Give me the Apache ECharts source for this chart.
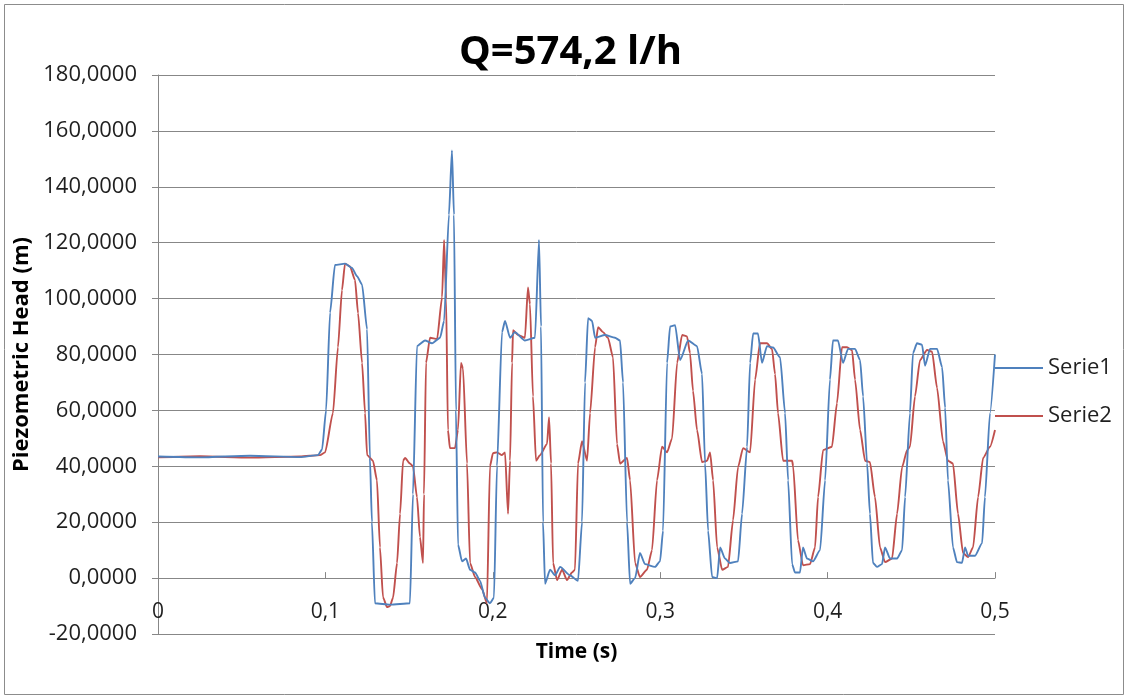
<!DOCTYPE html>
<html>
<head>
<meta charset="utf-8">
<title>Q=574,2 l/h</title>
<script src="https://cdn.jsdelivr.net/npm/echarts@6/dist/echarts.min.js"></script>
<style>
  html, body { margin: 0; padding: 0; background: #fff; }
  #chart { width: 1128px; height: 699px; }
</style>
</head>
<body>
<div id="chart"></div>
<script>
// 轴刻度
const timeTicks = [0, 0.1, 0.2, 0.3, 0.4, 0.5]
const headTicks = [-20, 0, 20, 40, 60, 80, 100, 120, 140, 160, 180]

// Serie1: [time (s), head (m)]
const serie1 = [
  [0, 43.5], [0.0251, 43.2], [0.0550, 43.8], [0.0848, 43.3], [0.0956, 44], [0.0980, 46], [0.1004, 60],
  [0.1028, 95], [0.1057, 112], [0.1117, 112.5], [0.1159, 111], [0.1189, 108], [0.1219, 105], [0.1249, 89],
  [0.1266, 43], [0.1278, 20], [0.1296, -9], [0.1386, -9.5], [0.1505, -9], [0.1523, 30], [0.1547, 83],
  [0.1595, 85], [0.1637, 84], [0.1685, 86], [0.1709, 92], [0.1738, 130], [0.1756, 153], [0.1768, 130],
  [0.1780, 60], [0.1792, 12], [0.1816, 6], [0.1840, 7], [0.1864, 3], [0.1894, 2], [0.1924, -1], [0.1953, -7],
  [0.1983, -9], [0.2007, -7], [0.2025, 40], [0.2055, 88], [0.2073, 92], [0.2103, 86], [0.2132, 88],
  [0.2192, 85], [0.2252, 86], [0.2276, 121], [0.2288, 90], [0.2300, 20], [0.2312, -2], [0.2342, 3],
  [0.2372, 1], [0.2402, 4], [0.2461, 1], [0.2509, -1], [0.2533, 20], [0.2551, 70], [0.2569, 93],
  [0.2593, 92], [0.2611, 86], [0.2670, 87], [0.2730, 86], [0.2760, 85], [0.2778, 70], [0.2802, 20],
  [0.2820, -2], [0.2850, 0], [0.2879, 9], [0.2909, 5], [0.2969, 4], [0.2999, 6], [0.3017, 17], [0.3041, 77],
  [0.3059, 90], [0.3089, 90.5], [0.3119, 78], [0.3167, 85], [0.3220, 83], [0.3250, 73], [0.3268, 41],
  [0.3286, 17], [0.3310, 0.4], [0.3340, 0], [0.3358, 11], [0.3387, 7], [0.3417, 5.4], [0.3465, 6],
  [0.3489, 23], [0.3519, 47], [0.3537, 77], [0.3555, 87.5], [0.3584, 87.5], [0.3608, 77], [0.3638, 83],
  [0.3674, 82.5], [0.3716, 79], [0.3746, 59], [0.3764, 35], [0.3788, 5], [0.3805, 2], [0.3835, 2],
  [0.3853, 11], [0.3877, 7], [0.3913, 6], [0.3955, 10], [0.3985, 35], [0.4014, 71], [0.4032, 85],
  [0.4062, 85], [0.4092, 77], [0.4122, 82], [0.4164, 82], [0.4194, 78], [0.4212, 65], [0.4236, 41],
  [0.4253, 23], [0.4271, 5.4], [0.4295, 4], [0.4325, 5], [0.4343, 11], [0.4373, 7], [0.4415, 7],
  [0.4445, 10], [0.4463, 29], [0.4492, 59], [0.4510, 80.5], [0.4534, 84], [0.4564, 83.5], [0.4582, 76],
  [0.4612, 82], [0.4654, 82], [0.4684, 75.5], [0.4702, 61], [0.4719, 35], [0.4749, 11], [0.4773, 5.7],
  [0.4803, 5.5], [0.4821, 11], [0.4839, 8], [0.4881, 8], [0.4923, 12.5], [0.4940, 29], [0.4970, 59],
  [0.5000, 80]
]

// Serie2: [time (s), head (m)]
const serie2 = [
  [0, 43.2], [0.0251, 43.6], [0.0550, 43.1], [0.0848, 43.5], [0.0968, 44], [0.0998, 45], [0.1045, 59],
  [0.1075, 82.6], [0.1099, 103], [0.1117, 112.5], [0.1147, 111.5], [0.1177, 106.6], [0.1195, 94.8],
  [0.1219, 77], [0.1237, 59], [0.1249, 44], [0.1284, 42], [0.1308, 35], [0.1326, 11], [0.1344, -6.8],
  [0.1368, -10.4], [0.1386, -10], [0.1404, -7], [0.1428, 5.4], [0.1446, 23], [0.1464, 42], [0.1476, 43],
  [0.1505, 41], [0.1523, 40], [0.1547, 29], [0.1565, 14.7], [0.1583, 5.4], [0.1589, 30], [0.1601, 77],
  [0.1625, 86], [0.1667, 85.5], [0.1697, 100.5], [0.1709, 121], [0.1721, 100], [0.1732, 53],
  [0.1744, 46.5], [0.1774, 46.5], [0.1792, 53], [0.1810, 77], [0.1822, 75], [0.1846, 41], [0.1864, 5.4],
  [0.1894, 0.4], [0.1936, -4], [0.1965, -9], [0.1983, 40], [0.2001, 44.7], [0.2025, 45], [0.2055, 44],
  [0.2073, 45], [0.2091, 23], [0.2103, 42], [0.2115, 77], [0.2121, 88.7], [0.2151, 87], [0.2192, 86],
  [0.2210, 104], [0.2222, 98], [0.2240, 65], [0.2258, 42], [0.2282, 44], [0.2324, 48], [0.2336, 57.6],
  [0.2348, 41], [0.2360, 5.4], [0.2384, -0.7], [0.2414, 3], [0.2443, -0.7], [0.2473, 2], [0.2491, 3],
  [0.2509, 41], [0.2533, 49], [0.2563, 42], [0.2581, 59], [0.2611, 82.6], [0.2629, 89.8], [0.2658, 88],
  [0.2688, 86], [0.2718, 79], [0.2742, 48], [0.2760, 41], [0.2802, 43], [0.2820, 35], [0.2850, 5.4],
  [0.2879, 0.4], [0.2921, 3], [0.2951, 10], [0.2981, 35], [0.3011, 47], [0.3041, 45], [0.3071, 50],
  [0.3101, 77], [0.3131, 87], [0.3160, 86.5], [0.3178, 80.5], [0.3196, 67], [0.3220, 53], [0.3250, 41.5],
  [0.3280, 42], [0.3298, 45], [0.3316, 35], [0.3340, 11], [0.3370, 3], [0.3405, 4], [0.3435, 20.7],
  [0.3465, 39.7], [0.3495, 46.5], [0.3537, 45], [0.3567, 71], [0.3596, 84], [0.3638, 84], [0.3668, 82],
  [0.3686, 73], [0.3704, 59], [0.3734, 42], [0.3788, 42], [0.3794, 40], [0.3823, 13.6], [0.3853, 4.6],
  [0.3895, 5], [0.3925, 11], [0.3943, 29], [0.3973, 45.8], [0.4026, 47], [0.4056, 62.6], [0.4086, 82.6],
  [0.4116, 82.6], [0.4146, 81.5], [0.4164, 71], [0.4194, 53], [0.4224, 42], [0.4253, 41.5], [0.4283, 29],
  [0.4313, 11], [0.4343, 5.7], [0.4385, 7], [0.4415, 23], [0.4445, 39.7], [0.4475, 45.8], [0.4492, 47],
  [0.4522, 65], [0.4552, 78], [0.4594, 81.6], [0.4624, 81], [0.4654, 68], [0.4689, 49], [0.4719, 42],
  [0.4749, 41], [0.4779, 23], [0.4809, 9], [0.4839, 7.5], [0.4869, 11], [0.4899, 29], [0.4929, 43],
  [0.4970, 47], [0.5000, 53]
]

const FONT = 'Open Sans'
const GRID_COLOR = '#878787'
const TEXT_COLOR = '#1f1f1f'

// 绘图区
const GRID_TOP = 75
const GRID_BOTTOM = 65
const GRID_HEIGHT = 699 - GRID_TOP - GRID_BOTTOM
// x 轴放在 y=0 处（向上偏移一个刻度间隔）
const X_AXIS_SHIFT = GRID_HEIGHT * (0 - headTicks[0]) / (headTicks[headTicks.length - 1] - headTicks[0])

const chart = echarts.init(document.getElementById('chart'))

const option = {
  animation: false,
  backgroundColor: '#fff',
  // 外框
  graphic: [{
    type: 'rect',
    shape: {x: 4.5, y: 4.5, width: 1119, height: 690},
    style: {fill: 'none', stroke: '#8c8c8c', lineWidth: 1},
    silent: true
  }],
  title: {
    text: 'Q=574,2 l/h',
    left: 459,
    top: 33,
    padding: 0,
    textStyle: {fontFamily: FONT, fontWeight: 'bold', fontSize: 40, color: '#000'}
  },
  legend: {
    orient: 'vertical',
    left: 995,
    top: 357,
    padding: 0,
    icon: 'rect',
    itemWidth: 48,
    itemHeight: 2,
    itemGap: 26,
    textStyle: {fontFamily: FONT, fontSize: 22, color: TEXT_COLOR},
    data: ['Serie1', 'Serie2']
  },
  grid: {left: 158, right: 133, top: GRID_TOP, bottom: GRID_BOTTOM, containLabel: false, outerBoundsMode: 'none'},
  xAxis: {
    type: 'value',
    min: timeTicks[0],
    max: timeTicks[timeTicks.length - 1],
    interval: 0.1,
    offset: -X_AXIS_SHIFT,
    name: 'Time (s)',
    nameLocation: 'middle',
    nameGap: 63,
    nameTextStyle: {fontFamily: FONT, fontWeight: 'bold', fontSize: 21, color: '#000'},
    axisLine: {onZero: false, lineStyle: {color: GRID_COLOR, width: 1}},
    axisTick: {show: true, inside: true, length: 6, lineStyle: {color: GRID_COLOR}},
    axisLabel: {
      margin: 23,
      fontFamily: FONT,
      fontSize: 21,
      color: TEXT_COLOR,
      showMinLabel: true,
      showMaxLabel: true,
      formatter: v => v === 0 ? '0' : String(+v.toFixed(1)).replace('.', ',')
    },
    splitLine: {show: false}
  },
  yAxis: {
    type: 'value',
    min: headTicks[0],
    max: headTicks[headTicks.length - 1],
    interval: 20,
    name: 'Piezometric Head (m)',
    nameLocation: 'middle',
    nameGap: 118,
    nameTextStyle: {fontFamily: FONT, fontWeight: 'bold', fontSize: 22, color: '#000'},
    axisLine: {show: true, onZero: false, lineStyle: {color: GRID_COLOR, width: 1}},
    axisTick: {show: true, inside: false, length: 6, lineStyle: {color: GRID_COLOR}},
    axisLabel: {
      margin: 21,
      fontFamily: FONT,
      fontSize: 22,
      color: TEXT_COLOR,
      formatter: v => v.toFixed(4).replace('.', ',')
    },
    splitLine: {show: true, lineStyle: {color: GRID_COLOR, width: 1}}
  },
  series: [
    {
      name: 'Serie1',
      type: 'line',
      data: serie1,
      symbol: 'none',
      smooth: 0.2,
      smoothMonotone: 'x',
      lineStyle: {color: '#4f81bd', width: 1.9},
      itemStyle: {color: '#4f81bd'},
      z: 3
    },
    {
      name: 'Serie2',
      type: 'line',
      data: serie2,
      symbol: 'none',
      smooth: 0.2,
      smoothMonotone: 'x',
      lineStyle: {color: '#c0504d', width: 1.9},
      itemStyle: {color: '#c0504d'},
      z: 2
    }
  ]
}

chart.setOption(option)
</script>
</body>
</html>
